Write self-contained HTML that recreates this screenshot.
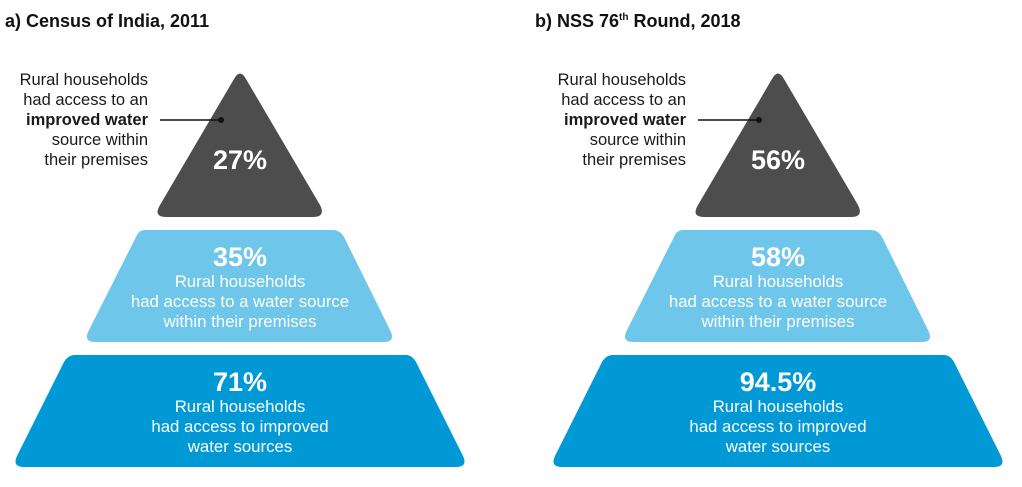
<!DOCTYPE html>
<html><head><meta charset="utf-8"><style>
html,body{margin:0;padding:0;background:#fff;}
svg{display:block;font-family:"Liberation Sans",sans-serif;}
.l{font-size:16.5px;fill:#1a1a1a;text-anchor:end;}
.w{fill:#fff;text-anchor:middle;}
.p{font-size:27px;font-weight:bold;}
.t{font-size:16.8px;}
.h{font-size:18px;font-weight:bold;fill:#111;}
</style></head><body>
<svg width="1022" height="487" viewBox="0 0 1022 487">
<defs>
<g id="pyr">
<path d="M234,79 Q240,68 246,79 L320,205 Q326,217 313,217 L166,217 Q153,217 160,205 Z" fill="#4d4d4d"/>
<path d="M145,230 L333,230 Q340,230 344,237 L391,332 Q395,342 384,342 L95,342 Q84,342 88,332 L136,237 Q139,230 145,230 Z" fill="#6ec6ea"/>
<path d="M75,355 L406,355 Q412,355 416,362 L463,456 Q468,467 456,467 L24,467 Q12,467 17,456 L64,362 Q68,355 75,355 Z" fill="#0099d6"/>
<line x1="160" y1="120" x2="221" y2="120" stroke="#111" stroke-width="1.5"/>
<circle cx="221" cy="120" r="3" fill="#111"/>
<text class="l" x="148" y="85">Rural households</text>
<text class="l" x="148" y="105">had access to an</text>
<text class="l" x="148" y="125" font-weight="bold">improved water</text>
<text class="l" x="148" y="145">source within</text>
<text class="l" x="148" y="165">their premises</text>
<text class="w t" x="240" y="287">Rural households</text>
<text class="w t" x="240" y="307">had access to a water source</text>
<text class="w t" x="240" y="327">within their premises</text>
<text class="w t" x="240" y="412">Rural households</text>
<text class="w t" x="240" y="432">had access to improved</text>
<text class="w t" x="240" y="452">water sources</text>
</g>
</defs>
<text class="h" x="5" y="27">a) Census of India, 2011</text>
<text class="h" x="535" y="27">b) NSS 76<tspan font-size="10" dy="-7">th</tspan><tspan dy="7"> Round, 2018</tspan></text>
<use href="#pyr"/>
<use href="#pyr" x="538"/>
<text class="w p" x="240" y="169">27%</text>
<text class="w p" x="240" y="266">35%</text>
<text class="w p" x="240" y="391">71%</text>
<text class="w p" x="778" y="169">56%</text>
<text class="w p" x="778" y="266">58%</text>
<text class="w p" x="778" y="391">94.5%</text>
</svg>
</body></html>
